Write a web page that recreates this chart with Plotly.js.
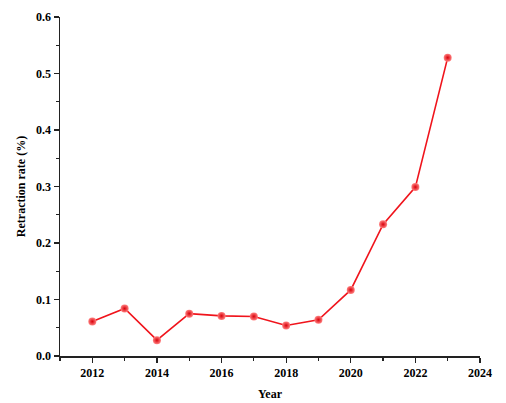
<!DOCTYPE html>
<html>
<head>
<meta charset="utf-8">
<script src="https://cdn.plot.ly/plotly-3.0.1.min.js"></script>
<style>html,body{margin:0;padding:0;background:#fff;}#chart{width:506px;height:403px;}</style>
</head>
<body>
<div id="chart"></div>
<script>
var years = [2012, 2013, 2014, 2015, 2016, 2017, 2018, 2019, 2020, 2021, 2022, 2023];
var retractionRate = [0.061, 0.084, 0.028, 0.075, 0.071, 0.070, 0.054, 0.064, 0.117, 0.233, 0.299, 0.528];
var xTicks = [2012, 2014, 2016, 2018, 2020, 2022, 2024];
var yTicks = [0.0, 0.1, 0.2, 0.3, 0.4, 0.5, 0.6];
var yTickLabels = ['0.0', '0.1', '0.2', '0.3', '0.4', '0.5', '0.6'];

var fontFam = '"Liberation Serif", "Times New Roman", serif';

var trace = {
  x: years,
  y: retractionRate,
  type: 'scatter',
  mode: 'lines+markers',
  line: {color: '#f0141c', width: 1.6},
  marker: {
    size: 8,
    color: '#ff8080',
    gradient: {type: 'radial', color: '#d8000a'},
    line: {width: 0}
  },
  cliponaxis: false,
  hoverinfo: 'x+y'
};

var layout = {
  width: 506,
  height: 403,
  margin: {l: 60, r: 26, t: 17, b: 47},
  paper_bgcolor: '#fff',
  plot_bgcolor: '#fff',
  showlegend: false,
  font: {family: fontFam, size: 12, color: '#000'},
  xaxis: {
    range: [2011, 2024],
    tickvals: xTicks,
    ticktext: xTicks.map(String),
    ticks: 'outside',
    ticklen: 5,
    tickwidth: 1.3,
    tickcolor: '#222',
    showline: true,
    linecolor: '#222',
    linewidth: 1.5,
    showgrid: false,
    zeroline: false,
    tickfont: {family: fontFam, size: 12, color: '#000', weight: 'bold'},
    minor: {dtick: 1, tick0: 2011, ticks: 'outside', ticklen: 3, tickwidth: 1.2, tickcolor: '#222', showgrid: false},
    title: {text: '<b>Year</b>', font: {family: fontFam, size: 12, color: '#000'}, standoff: 10}
  },
  yaxis: {
    range: [0, 0.6],
    tickvals: yTicks,
    ticktext: yTickLabels,
    ticks: 'outside',
    ticklen: 5,
    tickwidth: 1.3,
    tickcolor: '#222',
    showline: true,
    linecolor: '#222',
    linewidth: 1.5,
    showgrid: false,
    zeroline: false,
    tickfont: {family: fontFam, size: 12, color: '#000', weight: 'bold'},
    minor: {dtick: 0.05, tick0: 0, ticks: 'outside', ticklen: 3, tickwidth: 1.2, tickcolor: '#222', showgrid: false},
    title: {text: '<b>Retraction rate (%)</b>', font: {family: fontFam, size: 12, color: '#000'}, standoff: 8}
  }
};

Plotly.newPlot('chart', [trace], layout, {displayModeBar: false, staticPlot: true});
</script>
</body>
</html>
